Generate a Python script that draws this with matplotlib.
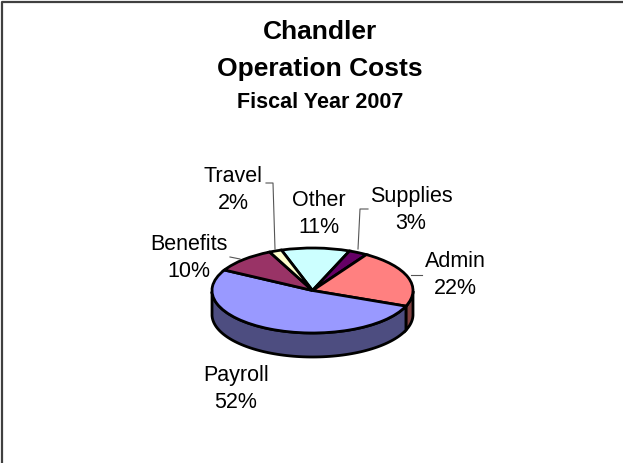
import numpy as np
import matplotlib
matplotlib.use("Agg")
import matplotlib.pyplot as plt

W, H = 623, 463

categories = ["Other", "Supplies", "Admin", "Payroll", "Benefits", "Travel"]
shares = [11, 3, 22, 52, 10, 2]
top_colors = ["#CCFFFF", "#660066", "#FF8080", "#9999FF", "#993366", "#FFFFCC"]
side_colors = ["#668080", "#330033", "#804040", "#4D4D80", "#4D1A33", "#808066"]

START_ANGLE = 108
DEPTH = 24 / 42.5  # pie wall height, in units of the squashed radius
LINE = "#000000"
LEADER = "#555555"

label_pos = {
    "Other": (319, 214),
    "Supplies": (411, 210),
    "Admin": (455, 275),
    "Payroll": (236, 389),
    "Benefits": (189, 258),
    "Travel": (233, 190),
}
leaders = [
    [(275, 249), (273, 183), (266, 183)],
    [(358, 249), (360, 209), (368, 209)],
    [(411, 275), (422, 275)],
    [(230, 257), (240, 259)],
]


def px_axes(fig, left, top, right, bottom):
    return fig.add_axes([left / W, 1 - bottom / H, (right - left) / W, (bottom - top) / H])


plt.rcParams["font.family"] = ["Liberation Sans", "DejaVu Sans"]
fig = plt.figure(figsize=(W / 100, H / 100), dpi=100, facecolor="white")

# page layer in pixel coordinates, for titles, labels and leaders
page = fig.add_axes([0, 0, 1, 1])
page.set_xlim(0, W)
page.set_ylim(H, 0)
page.axis("off")
page.plot([2, 2, W], [H, 1.5, 1.5], color="#404040", lw=1.6, clip_on=False)

page.text(320, 32, "Chandler", ha="center", va="center", fontsize=19, fontweight="bold")
page.text(320, 69, "Operation Costs", ha="center", va="center", fontsize=19, fontweight="bold")
page.text(320, 102, "Fiscal Year 2007", ha="center", va="center", fontsize=15.5, fontweight="bold")

# the pie lives on its own axes so the circle squashes to an ellipse
ax = px_axes(fig, 212, 248, 413, 357)
ax.set_facecolor("none")

# walls first, only the part of each slice facing front
edges = START_ANGLE - np.cumsum([0] + shares) * 3.6
for i, share in enumerate(shares):
    hi, lo = edges[i], edges[i + 1]
    ang = np.linspace(lo, hi, 100)
    ang = ang[np.sin(np.radians(ang)) <= 0]
    if len(ang) < 2:
        continue
    x = np.cos(np.radians(ang))
    y = np.sin(np.radians(ang))
    ax.fill(np.r_[x, x[::-1]], np.r_[y, y[::-1] - DEPTH], facecolor=side_colors[i],
            edgecolor=LINE, lw=2, zorder=1, clip_on=False)

wedges, _ = ax.pie(
    shares,
    colors=top_colors,
    startangle=START_ANGLE,
    counterclock=False,
    radius=1,
    wedgeprops=dict(edgecolor=LINE, linewidth=2, zorder=2, clip_on=False),
)
ax.set_aspect("auto")
ax.set_xlim(-1, 1)
ax.set_ylim(-1 - DEPTH, 1)

for path in leaders:
    xs = [p[0] for p in path]
    ys = [p[1] for p in path]
    page.plot(xs, ys, color=LEADER, lw=0.8, zorder=3)

for name, share in zip(categories, shares):
    cx, cy = label_pos[name]
    page.text(cx, cy, f"{name}\n{share}%", ha="center", va="center", fontsize=15.5,
              linespacing=1.4, color="#000000")

fig.savefig("out.png", dpi=100)
